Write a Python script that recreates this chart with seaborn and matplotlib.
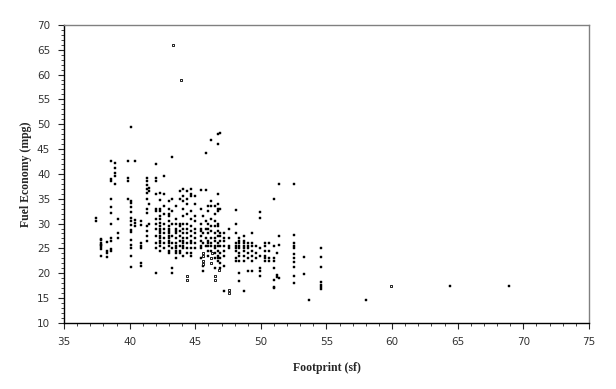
import pandas as pd
import matplotlib.pyplot as plt
import matplotlib.ticker as mticker
import seaborn as sns

# footprint columns (sf) and the fuel economy values seen in each column (mpg)
col_fp = [37.4, 37.8, 38.3, 38.6, 38.9, 39.1, 39.9, 40.1, 40.4, 40.9,
          41.3, 41.5, 42.0, 42.3, 42.6, 43.0, 43.2, 43.5, 43.8, 44.1,
          44.4, 44.7, 45.0, 45.4, 45.6, 45.8, 46.0, 46.2, 46.5, 46.7,
          46.9, 47.2, 47.6, 48.1, 48.3, 48.7, 49.0, 49.3, 49.6, 49.9,
          50.3, 50.6, 51.0, 51.2, 51.4, 52.5, 53.3, 53.7, 54.6, 58.0,
          64.4, 68.9]
col_mpg = [
    [31.2, 30.5],
    [26.9, 26.0, 25.7, 25.2, 24.8, 23.4, 26.7, 25.6],
    [24.0, 23.2, 24.4, 26.2],
    [42.6, 38.9, 38.5, 34.9, 33.4, 32.2, 29.9, 26.4, 24.9, 24.4, 27.0],
    [42.2, 41.2, 40.1, 39.5, 37.9],
    [31.0, 28.0, 27.1],
    [42.6, 39.1, 38.5, 35.0],
    [49.5, 34.5, 34.1, 33.3, 32.4, 31.1, 30.5, 29.7, 28.7, 28.3, 26.7, 25.6, 25.0, 23.5, 21.3],
    [42.6, 30.8, 30.2, 29.5],
    [30.5, 29.7, 26.0, 25.4, 25.0, 22.0, 21.5],
    [39.1, 38.5, 37.8, 36.9, 36.2, 35.0, 33.0, 32.2, 29.5, 28.5, 27.5, 26.5],
    [37.2, 36.5, 34.0, 30.0],
    [42.0, 39.2, 38.5, 36.0, 33.0, 32.5, 31.0, 30.0, 29.0, 27.5, 26.0, 25.0, 20.0],
    [36.2, 34.8, 33.0, 32.5, 31.5, 31.0, 30.2, 29.5, 29.0, 28.5, 28.0, 27.5, 27.0, 26.5, 26.0, 25.5, 24.5],
    [39.5, 36.0, 33.5, 32.0, 30.0, 29.0, 28.0, 27.0, 26.0, 25.0],
    [34.5, 33.0, 32.0, 31.5, 30.5, 29.5, 29.0, 28.5, 28.0, 27.5, 27.0, 26.5, 26.0, 25.5, 24.5, 24.0],
    [43.5, 35.0, 32.5, 30.0, 27.5, 26.0, 25.0, 21.0, 20.0],
    [33.5, 31.0, 30.0, 29.0, 28.5, 28.0, 27.0, 26.0, 25.5, 25.0, 24.5, 24.0, 23.0],
    [36.5, 35.0, 30.0, 29.5, 28.5, 27.5, 26.5, 25.5, 24.5, 24.0],
    [37.0, 35.5, 34.5, 33.0, 31.5, 30.0, 29.0, 28.0, 27.0, 26.5, 26.0, 25.5, 25.0, 23.5],
    [36.5, 35.0, 34.0, 32.0, 30.0, 29.0, 28.0, 27.0, 26.0, 25.0, 24.0],
    [37.0, 36.0, 35.5, 32.5, 31.0, 29.5, 28.5, 27.5, 26.5, 26.0, 25.0, 24.0, 23.5],
    [35.5, 34.0, 31.5, 30.5, 29.0, 28.0, 27.0, 26.0, 25.0],
    [36.8, 33.0, 30.0, 29.0, 28.5, 27.5, 26.5, 25.5, 25.0, 23.0],
    [31.5, 28.0, 26.0, 21.5, 20.5],
    [44.2, 36.8, 30.5, 29.0, 27.0, 25.5],
    [33.5, 32.5, 30.0, 29.0, 28.0, 26.5, 26.0, 25.5, 24.5, 23.5],
    [46.8, 34.5, 33.5, 31.0, 29.5, 28.5, 27.0, 26.0, 25.5, 24.5],
    [33.5, 32.0, 30.5, 29.5, 28.0, 27.0, 26.5, 25.5, 25.0, 24.0, 23.0, 21.0],
    [48.0, 46.0, 35.9, 34.0, 33.0, 32.5, 30.0, 29.5, 28.5, 27.5, 26.0, 25.5, 24.5, 23.5, 23.0, 22.5],
    [48.2, 33.0, 28.0, 27.5, 26.5, 25.5, 24.0, 23.0, 22.0, 21.0],
    [28.0, 27.0, 26.5, 25.5, 24.5, 23.5, 21.5, 16.5],
    [29.0, 27.0, 25.5, 25.0],
    [32.8, 30.0, 28.0, 26.0, 25.5, 25.0, 24.5, 23.0, 22.5],
    [27.0, 26.5, 26.0, 25.5, 25.0, 24.0, 23.5, 22.5, 20.0, 18.5],
    [27.5, 26.5, 26.0, 25.5, 25.0, 24.5, 23.5, 22.5, 16.5],
    [26.0, 25.5, 25.0, 24.0, 23.0, 20.5],
    [28.0, 26.0, 25.5, 24.5, 23.5, 22.5, 20.5],
    [25.5, 24.0, 23.0],
    [32.3, 31.1, 25.0, 23.5, 21.0, 20.5, 19.5],
    [26.0, 25.5, 24.5, 23.5, 23.0, 22.5],
    [26.0, 24.5, 23.0, 22.5],
    [34.9, 25.5, 23.0, 22.4, 21.1, 18.7, 17.3, 17.0],
    [24.0, 19.7, 19.3],
    [37.9, 27.5, 25.6, 19.0],
    [37.9, 27.7, 26.0, 25.4, 25.1, 23.9, 23.0, 22.2, 21.2, 19.5, 18.0],
    [23.2, 19.8],
    [14.6],
    [25.0, 23.2, 21.2, 18.2, 17.6, 17.2, 16.8],
    [14.6],
    [17.4],
    [17.4],
]

# points drawn as hollow squares
open_fp = [43.3, 43.9, 59.9, 44.4, 44.4, 45.6, 45.6, 45.6, 45.6, 46.2, 46.2,
           46.3, 46.5, 46.5, 46.8, 47.6, 47.6]
open_mpg = [66.0, 59.0, 17.4, 19.5, 18.6, 24.1, 23.4, 22.5, 21.8, 23.0, 22.0,
            24.0, 19.5, 18.7, 20.7, 16.6, 16.1]

rows = [(fp, m) for fp, ms in zip(col_fp, col_mpg) for m in ms]
filled = pd.DataFrame(rows, columns=["Footprint", "MPG"])
hollow = pd.DataFrame({"Footprint": open_fp, "MPG": open_mpg})

sns.set_style("ticks")
plt.rcParams["font.family"] = ["DejaVu Sans"]

fig = plt.figure(figsize=(6.16, 3.89), dpi=100)
ax = fig.add_axes([0.104, 0.170, 0.852, 0.766])

sns.scatterplot(data=filled, x="Footprint", y="MPG", ax=ax, marker="s", s=3.5,
                color="black", edgecolor="black", linewidth=0.3)
sns.scatterplot(data=hollow, x="Footprint", y="MPG", ax=ax, marker="s", s=4.5,
                facecolor="white", edgecolor="black", linewidth=0.6)

ax.set_xlim(35, 75)
ax.set_ylim(10, 70)
ax.xaxis.set_major_locator(mticker.MultipleLocator(5))
ax.yaxis.set_major_locator(mticker.MultipleLocator(5))
ax.xaxis.set_minor_locator(mticker.MultipleLocator(1))
ax.yaxis.set_minor_locator(mticker.MultipleLocator(1))
ax.tick_params(which="major", direction="out", length=4, width=0.8,
               labelsize=7.5, labelcolor="#333333", pad=6)
ax.tick_params(which="minor", direction="out", length=2, width=0.6)

for side in ["left", "bottom"]:
    ax.spines[side].set_color("black")
    ax.spines[side].set_linewidth(1)
for side in ["top", "right"]:
    ax.spines[side].set_color("#808080")
    ax.spines[side].set_linewidth(1)

label_font = dict(family="Liberation Serif", weight="bold", size=8.5)
ax.set_xlabel("Footprint (sf)", **label_font)
ax.set_ylabel("Fuel Economy (mpg)", **label_font)
ax.xaxis.set_label_coords(0.5, -0.131)
ax.yaxis.set_label_coords(-0.061, 0.5)

plt.savefig("out.png", dpi=100)
plt.close()
